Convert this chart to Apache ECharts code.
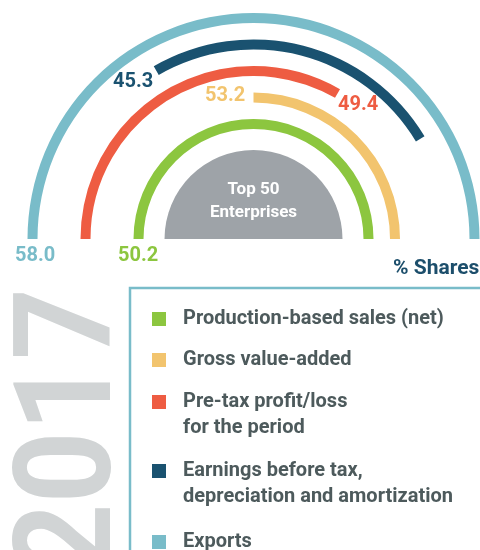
<!DOCTYPE html>
<html>
<head>
<meta charset="utf-8">
<script src="https://cdn.jsdelivr.net/npm/echarts@6/dist/echarts.min.js"></script>
<style>
html,body{margin:0;padding:0;background:#fff;}
#chart{width:480px;height:550px;}
</style>
</head>
<body>
<div id="chart"></div>
<script>
// rings, inner to outer
var names = ['Production-based sales (net)', 'Gross value-added', 'Pre-tax profit/loss\nfor the period', 'Earnings before tax,\ndepreciation and amortization', 'Exports'];
var shares = [50.2, 53.2, 49.4, 45.3, 58.0];
// arc extent in degrees, 0 = left end, 180 = right end
var arcStart = [0, 90, 0, 60, 0];
var arcEnd = [180, 180, 120, 149, 180];
var colors = ['#8cc63f', '#f2c46e', '#ee5c42', '#1a5270', '#79bcc9'];

var FONT = 'Roboto';
var CX = 253.5, CY = 239;

var myChart = echarts.init(document.getElementById('chart'));

var series = [{
    name: 'offset',
    type: 'bar',
    coordinateSystem: 'polar',
    stack: 'ring',
    barWidth: 10,
    silent: true,
    itemStyle: { color: 'rgba(0,0,0,0)' },
    data: arcStart
}];
names.forEach(function (n, i) {
    series.push({
        name: n,
        type: 'bar',
        coordinateSystem: 'polar',
        stack: 'ring',
        barWidth: 10,
        itemStyle: { color: colors[i] },
        data: names.map(function (_, j) { return j === i ? arcEnd[i] - arcStart[i] : '-'; })
    });
});
// grey half disc in the middle
series.push({
    type: 'pie',
    center: [CX, CY],
    radius: [0, 89],
    startAngle: 180,
    silent: true,
    label: { show: false },
    labelLine: { show: false },
    data: [
        { value: 1, itemStyle: { color: '#9ea3a8' } },
        { value: 1, itemStyle: { color: 'rgba(0,0,0,0)' } }
    ]
});

// value label spots (left x, middle y)
var labelPos = [[118, 257], [205, 97], [338, 106], [113, 83], [15, 257]];
var graphics = [];
shares.forEach(function (v, i) {
    graphics.push({
        type: 'text', left: labelPos[i][0], top: labelPos[i][1] - 11,
        style: { text: v.toFixed(1), fill: colors[i], font: 'bold 20px ' + FONT }
    });
});
graphics.push({
    type: 'text', x: CX, y: 201, z: 100,
    style: { text: 'Top 50\nEnterprises', fill: '#fff', font: 'bold 17px ' + FONT, lineHeight: 23, align: 'center', verticalAlign: 'middle' }
});
graphics.push({
    type: 'text', x: 393, y: 269,
    style: { text: '% Shares', fill: '#1c4e6b', font: 'bold 21px ' + FONT, verticalAlign: 'middle' }
});
// legend box border
graphics.push({
    type: 'polyline',
    shape: { points: [[130, 560], [130, 288], [490, 288]] },
    style: { stroke: '#79bcc9', lineWidth: 2.5, fill: null }
});
// big year
graphics.push({
    type: 'text', x: 8, y: 288, rotation: Math.PI / 2, scaleX: 0.92,
    style: { text: '2017', fill: '#d1d4d5', font: 'bold 136px ' + FONT, align: 'right', verticalAlign: 'top' }
});
// legend
var legendY = [319, 360, 402, 471, 542];
names.forEach(function (n, i) {
    graphics.push({
        type: 'rect', shape: { x: 152, y: legendY[i] - 7, width: 14, height: 14 },
        style: { fill: colors[i] }
    });
    graphics.push({
        type: 'text', x: 183, y: legendY[i] - 13,
        style: { text: n, fill: '#4d5a5c', font: 'bold 20px ' + FONT, lineHeight: 26, verticalAlign: 'top' }
    });
});

var option = {
    animation: false,
    polar: { center: [CX, CY], radius: [101.75, 234.25] },
    angleAxis: { type: 'value', min: 0, max: 360, startAngle: 180, clockwise: true, show: false },
    radiusAxis: { type: 'category', data: names, show: false },
    series: series,
    graphic: graphics
};
myChart.setOption(option);
</script>
</body>
</html>
